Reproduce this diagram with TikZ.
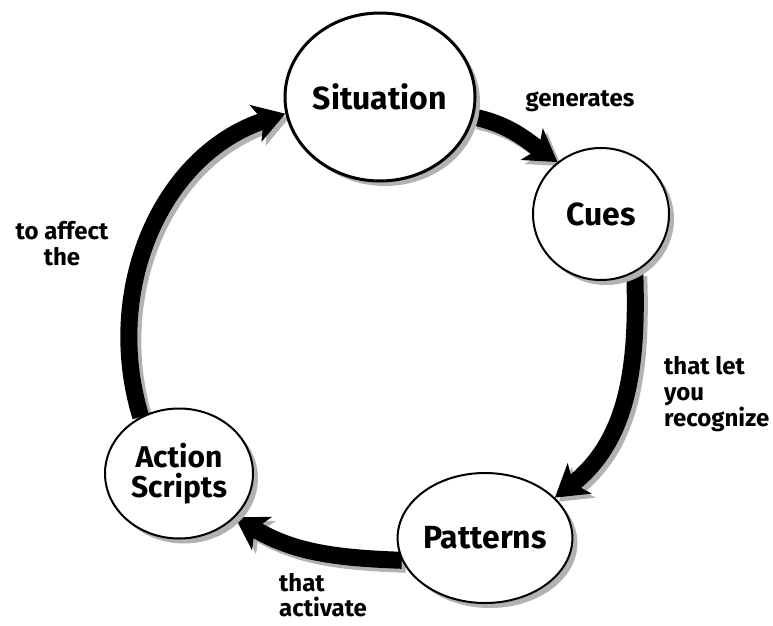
\documentclass[tikz,border=0pt]{standalone}
\usepackage{fontspec}
\setmainfont{Fira Sans}
\usetikzlibrary{arrows.meta,shapes.geometric,shadows,backgrounds}
\begin{document}
\begin{tikzpicture}[x=1pt,y=1pt,
  state/.style={ellipse, draw=black, fill=white, line width=2pt, inner sep=0pt,
    align=center, font=\bfseries\fontsize{32}{33}\selectfont,
    drop shadow={shadow xshift=5pt, shadow yshift=-5pt, fill=black!30, opacity=1}},
  lbl/.style={font=\bfseries\fontsize{24}{26}\selectfont, inner sep=0pt},
  flow/.style={line width=17pt, -{Stealth[length=31pt,width=38pt,inset=8pt]}},
  flowshadow/.style={flow, draw=black!30},
]
\useasboundingbox (0,0) rectangle (773,625);

\node[state, minimum width=190pt, minimum height=168pt, line width=3pt] (sit) at (380,528) {Situation};
\node[state, minimum width=136pt, minimum height=132pt] (cues) at (601,411) {Cues};
\node[state, minimum width=144pt, minimum height=130pt] (pat) at (485,87) {Patterns};
\node[state, minimum width=148pt, minimum height=130pt, font=\bfseries\fontsize{30}{30}\selectfont] (act) at (179,151.5) {Action\\Scripts};

\node[lbl, anchor=north] (gen) at (580,535) {generates};
\node[lbl, anchor=north west, align=left] (rec) at (664,269) {that let\\you\\recognize};
\node[lbl, anchor=north west, align=left, font=\bfseries\fontsize{24}{25}\selectfont] (actv) at (279,52) {that\\activate};
\node[lbl, anchor=north, align=center] (aff) at (62,404) {to affect\\the};

\newcommand\cyclepaths[1]{%
  \draw[#1] (sit.-12) to[out=-12,in=145] (cues.130);
  \draw[#1] (cues.-60) to[out=-88,in=38] (pat.30);
  \draw[#1] (pat.195) to[out=178,in=-31] (act.-38);
  \draw[#1] (act.124) to[out=107,in=-162] (sit.190);
}
\begin{scope}[on background layer]
  \begin{scope}[transform canvas={shift={(4pt,-4pt)}}]
    \cyclepaths{flowshadow}
  \end{scope}
  \cyclepaths{flow}
\end{scope}
\end{tikzpicture}
\end{document}
